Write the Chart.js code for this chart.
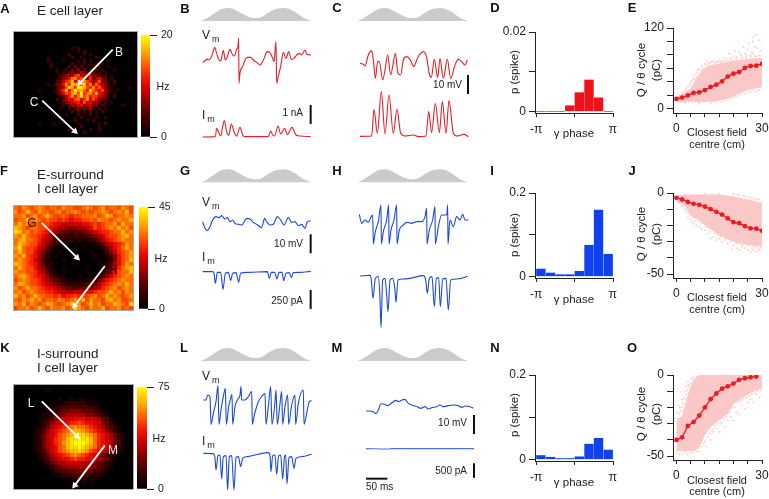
<!DOCTYPE html>
<html>
<head>
<meta charset="utf-8">
<title>Grid cell panels</title>
<script src="https://cdn.jsdelivr.net/npm/chart.js@4/dist/chart.umd.min.js"></script>
<style>
  html, body { margin: 0; padding: 0; background: #fff; }
  #fig { position: relative; width: 769px; height: 499px; overflow: hidden; font-family: "Liberation Sans", Arial, sans-serif; color: #222; }
  canvas { position: absolute; }
  .t { position: absolute; white-space: nowrap; z-index: 5; line-height: 1; }
  .t sub { font-size: 0.75em; vertical-align: -0.35em; line-height: 0; margin-left: 2px; }
</style>
</head>
<body>
<div id="fig"></div>
<script>
// firing rate maps, one char per cell, 0-f = share of the colour bar, . = silent
const heatA = [
  ".........................................",
  ".........................................",
  ".........................................",
  ".........................................",
  ".........................................",
  "...................2.3...................",
  ".....................2.3.................",
  "..................3....2.2...............",
  "...........2.......3..2....3.............",
  "...........3....2....2.3.2.....2.........",
  "............2......3.2.3.2.3.2...........",
  "............3.....3.4.3.2.3.3..2.........",
  "..............2..3.4.5.4.3.4.2...2.......",
  "..............2.3.4534653.4.3.2..........",
  "...............345659a6758453.3.2........",
  "..............23568bc8a75936854.2........",
  "..............3469ad7b9ca857a452.3.......",
  "...........2.2458c9edbae9c7b8653.2.......",
  "..............356aec9feda9c8b7532.....2..",
  "........2....2369d8bfcdb8eb97a642.2......",
  "..............357a9cdaf9bc9d8753.2.......",
  "...............2469c8beac8a97652.3.......",
  "..............3.4687ab79c7a85432.........",
  "...............23567896a78564.3.2........",
  "................3.4657856745.32.....2....",
  "...............2..3.4535463.3.2..........",
  "...................3.4.3.4.2.3...........",
  ".................2...3.2.3.2.............",
  "..............2.....2.3....2..2..........",
  "....................3...2.3..............",
  "........2....2.......2......2.3..........",
  "......................3.....2............",
  "..................3......2..3............",
  ".......................3.................",
  "........................................."
];
const heatF = [
  "bacbabcbabbacbbaabcbabcabbacba",
  "cabdbacbbabcabbcbababbcbabcbda",
  "bbcabcabdbaaba9aabbbcabdcabbcb",
  "abbdbcbabaa9a9899aabacbbabcbbd",
  "bdbcabaaa98877777889a9abbcadbb",
  "dcbabbaa987665556678a9abcbdbca",
  "edbcaba98765443434567899abbdbc",
  "cbdbaa987542332323345679aabcdb",
  "bcdbba9765322121212235689abcbb",
  "bdcbaa875421010100011246789acb",
  "cebaa9764210100001000124689bdb",
  "bdbaa8653101000000010013579abc",
  "cbda98642010000100001001358abc",
  "bcba97531100100000000101258abd",
  "dcba98642100000100000112368acb",
  "bdbaa8653100100000100012469bcd",
  "cbbaa976421010000010012468abbd",
  "bcdba987532110001001123579abcb",
  "abcbaa9765432110111224689abcbb",
  "bdcbaa987654322222334689abcbdb",
  "cabdbba9887654433445679abcabcb",
  "bcabcbaa9987766777889aabdbcacb",
  "dbcabdbbaa9a899a9aabcabdbcbabc",
  "bacbdbcabbacbabcbdacbbacdbcaab",
  "cbdacbabdcbabcdbcabdbcabbdcbae",
  "abbcabdbacbbcabecbacbbdabbcaba"
];
const heatK = [
  "..............................",
  "........1.....................",
  "..............................",
  "...........1..1.11.1..........",
  "..........11122222111.........",
  ".........1123333333221........",
  "........112344555444321.......",
  ".......11234566666554321......",
  "......1123567778887776431.....",
  "......1235677899a98877542.....",
  ".....11246789abcbba98764321...",
  ".....1235789abcddcba9875421...",
  ".....124678abcdeeedcb9876421..",
  ".....124679abdeefeedb9876431..",
  ".....124679acdefffedb9876431..",
  ".....124678abdeefedcb9876421..",
  ".....123578abcddedca98765321..",
  "......1246789abcba98764321....",
  "......123567889a9988765421....",
  ".......124566777766654321.....",
  "........12345566666554321.....",
  ".........123344455443321......",
  "..........1122333332221.......",
  "............111222111.........",
  "..............1..1.1..........",
  ".............................."
];

// theta envelope, shared by all traces
const thetaT = [0, 18, 33, 48, 63, 83, 98, 113, 128, 143, 158, 168, 183, 198, 213, 228, 248, 263, 278, 293, 308, 323, 333];
const thetaV = [0, 8, 18, 28, 36, 39, 36, 28, 20, 13, 9, 9, 12, 22, 31, 37, 39, 37, 30, 20, 10, 3, 0];

// traces, [time, value]; 1 time unit is about 0.78 ms, 57 value units are one scale bar
const vmB = [[0,2],[7,7],[12,13],[17,10],[24,15],[30,30],[36,48],[42,30],[48,12],[54,7],[62,38],[68,10],[74,20],[82,42],[90,25],[95,22],[102,42],[106,50],[108,75],[109,-60],[112,-28],[120,-10],[127,10],[134,18],[144,18],[152,10],[162,3],[172,-5],[182,10],[194,35],[202,32],[208,20],[214,5],[220,65],[222,-60],[226,-42],[234,-10],[242,33],[250,15],[258,35],[266,12],[274,15],[282,25],[290,30],[297,25],[307,40],[312,28],[324,25]];
const imB = [[0,-1],[38,0],[42,25],[47,15],[54,2],[59,25],[65,48],[72,15],[78,4],[86,38],[94,15],[102,2],[112,28],[120,5],[127,0],[197,0],[204,17],[210,5],[216,2],[226,32],[234,8],[246,25],[254,6],[268,28],[280,5],[292,2],[324,0]];
const vmC = [[0,0],[8,-2],[15,-8],[25,25],[35,38],[40,10],[46,-45],[53,5],[58,5],[68,-50],[75,-20],[83,25],[92,-35],[98,-10],[106,30],[114,-30],[122,-35],[130,10],[140,20],[150,12],[162,-10],[172,15],[190,35],[200,18],[208,-32],[214,-42],[223,12],[233,-42],[240,15],[250,-45],[262,12],[272,-45],[285,-5],[295,12],[305,5],[315,-5],[322,10]];
const imC = [[0,-1],[35,0],[42,80],[52,8],[64,133],[75,6],[87,123],[100,8],[111,80],[122,8],[135,0],[160,3],[175,-2],[198,0],[206,73],[215,10],[226,98],[238,10],[247,103],[258,8],[267,106],[280,8],[290,0],[312,5],[325,-2]];
const vmG = [[0,0],[7,-20],[14,-27],[22,-15],[30,5],[40,15],[50,12],[57,18],[67,8],[74,12],[82,0],[90,5],[97,-5],[107,-8],[117,-10],[132,10],[142,8],[152,-2],[162,-8],[177,-18],[186,10],[192,0],[202,-10],[212,-8],[224,15],[234,5],[244,-10],[257,12],[267,-2],[277,0],[287,-12],[297,-8],[307,-20],[314,0],[324,2]];
const imG = [[0,0],[30,0],[34,-5],[38,-35],[44,-2],[54,-2],[61,-53],[68,-5],[77,-2],[84,-26],[90,-5],[100,-3],[108,-32],[114,-4],[137,-2],[194,0],[200,-20],[206,-2],[216,-2],[223,-22],[229,-2],[238,-2],[243,-27],[250,-4],[260,-3],[266,-18],[272,-3],[292,-2],[324,1]];
const vmH = [[0,17],[7,-10],[17,0],[27,-7],[34,7],[40,15],[42,-72],[48,-35],[57,-5],[65,45],[66,-72],[72,-35],[82,0],[88,45],[89,-72],[95,-30],[104,0],[112,45],[113,-72],[120,-30],[132,-15],[142,-7],[157,-10],[172,-5],[187,-5],[197,10],[202,35],[203,-72],[210,-30],[220,0],[227,40],[228,-72],[237,-20],[247,15],[262,15],[265,45],[266,-72],[272,0],[282,-20],[292,10],[302,0],[310,17],[317,0],[327,0]];
const imH = [[0,0],[30,2],[34,-12],[39,-67],[46,-7],[55,-2],[60,-67],[63,-154],[68,-12],[75,-7],[80,-57],[84,-107],[90,-12],[98,-7],[105,-42],[108,-79],[114,-12],[130,-9],[150,-7],[190,1],[197,-12],[202,-52],[208,-7],[216,-2],[223,-92],[229,-7],[236,-5],[241,-92],[248,-9],[258,-7],[265,-102],[272,-12],[290,-9],[305,-7],[323,-1]];
const vmL = [[0,0],[8,0],[13,15],[20,10],[23,-73],[30,-40],[38,-5],[44,43],[47,-73],[53,-30],[60,10],[66,35],[69,-73],[76,-20],[82,5],[86,17],[88,-73],[95,-20],[102,0],[110,15],[113,40],[115,0],[125,0],[135,10],[145,25],[147,-73],[153,-45],[165,-5],[175,10],[185,20],[188,-73],[195,-20],[202,40],[206,-73],[215,-5],[218,30],[222,-73],[230,-10],[235,25],[238,-73],[245,-20],[253,15],[256,-73],[265,-15],[275,15],[277,-73],[285,-10],[300,30],[302,-73],[310,-40],[318,-5],[325,-2]];
const imL = [[0,0],[30,-1],[35,-15],[38,-50],[44,-7],[50,-5],[55,-77],[60,-10],[68,-7],[73,-110],[78,-10],[85,-7],[92,-110],[98,-13],[105,-10],[112,-40],[118,-15],[132,-10],[195,2],[200,-7],[203,-55],[208,-7],[215,-5],[220,-63],[226,-7],[232,-5],[238,-77],[244,-7],[247,-5],[251,-92],[257,-13],[265,-10],[272,-45],[278,-15],[295,-10],[325,-3]];
const vmM = [[0,-3],[12,-3],[22,-5],[30,-11],[37,0],[44,18],[54,18],[64,13],[72,17],[82,25],[90,29],[98,25],[106,29],[116,32],[127,20],[137,15],[144,13],[154,10],[164,5],[177,10],[187,3],[197,7],[212,10],[222,15],[232,10],[247,13],[262,15],[277,13],[287,8],[297,12],[312,10],[322,5]];
const imM = [[0,0],[70,-1],[75,0],[150,0],[324,0]];

// spike phase histograms
const binCentres = [-2.75, -1.96, -1.18, -0.39, 0.39, 1.18, 1.96, 2.75];
const spikeD = [0, 0, 0, 0.0014, 0.0047, 0.0079, 0.0034, 0];
const spikeI = [0.0175, 0.008, 0.004, 0.004, 0.012, 0.0746, 0.159, 0.053];
const spikeN = [0.009, 0.005, 0.002, 0.002, 0.006, 0.036, 0.05, 0.022];

// charge per theta cycle against distance
const meanX = [0, 2, 4, 6, 8, 10, 12, 14, 16, 18, 20, 22, 24, 26, 28, 30];
const meanE = [14.8, 16.8, 20, 23.7, 24.7, 28, 32.6, 36, 41, 48, 52.3, 54.8, 60.7, 63.7, 64.2, 66.7];
const meanJ = [-3, -4, -5.5, -6.7, -7.3, -8.4, -10, -11.6, -13.3, -15.7, -18, -18.6, -20.4, -21.8, -22, -23.3];
const meanO = [-40, -38.4, -31.4, -29, -25, -20, -14.9, -11.4, -8.4, -7, -5.3, -3, -2, -1.4, -1];

// edges of the dense part of each cloud
const bandEX = [0, 2, 5, 7, 10, 13, 16, 20, 25, 30];
const bandEHi = [18, 22, 30, 46, 62, 66, 68, 72, 74, 76];
const bandELo = [11, 10, 10, 10, 10, 11, 13, 19, 28, 32];
const bandJX = [0, 3, 5, 8, 10, 15, 20, 25, 30];
const bandJHi = [-2, -1, -1, -1, -1, -1, -2, -4, -6];
const bandJLo = [-5, -8, -14, -17, -20, -26, -30, -32, -33];
const bandOX = [0, 2, 4, 6, 8, 10, 12, 15, 18, 20, 25, 30];
const bandOHi = [-28, -25, -12, -3, 0, 0, 0, 0, 0, 0, 0, 0];
const bandOLo = [-47, -47, -47, -47, -45, -37, -32, -28, -24, -18, -12, -8];

// stray points around the clouds
const speckE = [[1,21],[2,24],[3,27],[3.5,30],[4,33],[4.5,37],[5,34],[5.5,42],[6,45],[6,50],[6.5,38],[7,54],[7,48],[7.5,58],[8,60],[8,43],[8.5,52],[9,64],[9.5,57],[10,67],[11,70],[12,69],[13,71],[14,70],[15,72],[16,72],[17,75],[18,73],[18.5,82],[19,76],[20,78],[20.5,86],[21,75],[22,84],[22.5,80],[23,78],[23.5,92],[24,82],[24.5,76],[25,88],[25.5,97],[26,80],[26.5,84],[26.8,100],[27,106],[27.5,92],[28,110],[28.5,90],[29,102],[29.5,86],[30,94],[30,80],[28,78],[27,82],[16,10],[18,14],[20,17],[22,20],[24,23],[26,26],[28,26],[29,28],[30,28],[12,9],[8,9],[3,9],
  [4.5,27],[5,40],[5.8,30],[6.3,44],[7.2,40],[7.8,52],[8.6,57],[9.2,60],[10.5,65],[11.5,67],[12.5,70],[13.5,68],[14.5,70],[15.5,70],[16.5,70],[17.5,71],[19,73],[21,77],[23,75],[24.5,79],[26,77],[27.5,78],[29,79],[17,12],[19,16],[21,19],[23,22],[25,25],[27,28],[14,10.5]];
const speckJ = [[1,-6],[2,-8],[3,-10],[4,-11],[4,-15],[5,-16],[5.5,-18],[6,-15],[6,-19],[7,-20],[7.5,-17],[8,-21],[9,-22],[9,-18],[10,-23],[11,-25],[12,-24],[12,-28],[13,-27],[14,-29],[15,-28],[16,-30],[17,-29],[18,-31],[19,-30],[20,-32],[21,-34],[22,-31],[23,-33],[24,-34],[25,-35],[25.5,-32],[26,-36],[26.5,-34],[27,-35],[27.5,-33],[28,-36],[28.5,-34],[29,-35],[30,-36],[30,-34],[29.5,-33],[22,-35],[19.5,-35],[20,-0.6],[22,-1],[24,-2],[25,-2.5],[26,-3],[27,-3.5],[28,-4],[29,-4],[30,-5],[1,-1.5],[3,-0.6],[10,-0.4],[15,-0.4],
  [2.5,-7],[3.5,-12],[4.5,-13],[6.5,-17],[8.5,-19],[10.5,-21],[11.5,-23],[13.5,-25],[14.5,-26],[15.5,-27],[17.5,-28],[19,-29],[21,-31],[23,-32],[24.5,-32],[21.5,-1.5],[23.5,-1.8],[26,-4.5],[28,-3.5]];
const speckO = [[0.5,-27],[1,-24],[1.5,-22],[2,-20],[2.5,-18],[3,-15],[3.5,-12],[4,-9],[4.5,-7],[5,-5],[5.5,-3],[6,-1.5],[6.5,-4],[7,-1],[1,-19],[2,-15],[3.5,-7],[4,-4],[5,-2],[0,-48],[1,-49],[2,-49],[3,-48],[4,-49],[5,-48],[6,-48],[7,-47],[8,-47],[9,-44],[10,-41],[10.5,-44],[11,-38],[12,-40],[13,-35],[14,-33],[15,-35],[16,-30],[17,-32],[18,-28],[19,-26],[20,-28],[21,-23],[22,-24],[23,-19],[24,-21],[25,-17],[26,-15],[27,-17],[28,-12],[29,-14],[30,-10],[30,-13],
  [0.3,-23],[1.2,-20],[2.2,-17],[3.2,-10],[2.8,-14],[4.2,-6],[9.5,-42],[11.5,-36],[12.5,-34],[13.5,-31],[14.5,-30],[15.5,-29],[16.5,-27],[17.5,-26],[18.5,-23],[19.5,-20],[20.5,-20],[21.5,-17],[22.5,-16],[23.5,-15],[24.5,-14],[25.5,-13],[26.5,-12],[27.5,-11],[28.5,-10],[29.5,-9]];

const RED = '#e5202a';
const BLUE = '#1c48dc';
const INK = '#222';
const fig = document.getElementById('fig');

Chart.defaults.font.family = '"Liberation Sans", Arial, sans-serif';
Chart.defaults.color = INK;
Chart.defaults.animation = false;
Chart.defaults.responsive = false;
Chart.defaults.layout.autoPadding = false;
Chart.defaults.plugins.legend.display = false;
Chart.defaults.plugins.tooltip.enabled = false;

function addCanvas(left, top, w, h) {
  const c = document.createElement('canvas');
  c.width = w;
  c.height = h;
  c.style.left = left + 'px';
  c.style.top = top + 'px';
  fig.appendChild(c);
  return c;
}

function txt(x, y, html, size, opts) {
  opts = opts || {};
  const d = document.createElement('div');
  d.className = 't';
  d.innerHTML = html;
  d.style.left = x + 'px';
  d.style.top = y + 'px';
  d.style.fontSize = size + 'px';
  if (opts.bold) d.style.fontWeight = 'bold';
  if (opts.color) d.style.color = opts.color;
  let tx = opts.align === 'left' ? '0' : opts.align === 'right' ? '-100%' : '-50%';
  d.style.transform = `translate(${tx},-50%)` + (opts.rot ? ' rotate(-90deg)' : '');
  fig.appendChild(d);
}

// colour bar stops, black through red to yellow
function hotColor(t) {
  const stops = [[0, 0, 0, 0], [0.25, 90, 0, 0], [0.5, 225, 0, 0], [0.62, 255, 40, 0], [0.8, 255, 150, 0], [1, 255, 255, 0]];
  for (let i = 1; i < stops.length; i++) {
    if (t <= stops[i][0]) {
      const a = stops[i - 1], b = stops[i];
      const f = (t - a[0]) / (b[0] - a[0]);
      return `rgb(${Math.round(a[1] + f * (b[1] - a[1]))},${Math.round(a[2] + f * (b[2] - a[2]))},${Math.round(a[3] + f * (b[3] - a[3]))})`;
    }
  }
  return 'rgb(255,255,0)';
}

function heatMap(rows, box, arrows) {
  const canvas = addCanvas(box.l, box.t, box.r - box.l, box.b - box.t);
  canvas.style.background = '#000';
  canvas.style.outline = '1px solid #aaa';
  const nRows = rows.length, nCols = rows[0].length;
  const cells = [], colors = [];
  rows.forEach((row, r) => {
    for (let c = 0; c < row.length; c++) {
      const level = parseInt(row[c], 16);
      if (level > 0) {
        cells.push({ x: c + 0.5, y: r + 0.5 });
        colors.push(hotColor(level / 15));
      }
    }
  });
  const side = (box.r - box.l) / nCols;
  const datasets = arrows.map(a => ({
    data: [{ x: a[0], y: a[1] }, { x: a[2], y: a[3] }],
    showLine: true,
    borderColor: '#fff',
    borderWidth: 1.8,
    pointStyle: 'triangle',
    pointBackgroundColor: '#fff',
    pointBorderWidth: 0,
    pointRadius: [0, 4],
    pointRotation: Math.atan2(a[2] - a[0], a[1] - a[3]) * 180 / Math.PI
  }));
  datasets.push({
    data: cells,
    pointStyle: 'rect',
    pointRadius: (side + 0.3) * Math.SQRT1_2,
    pointBorderWidth: 0,
    pointBackgroundColor: colors
  });
  new Chart(canvas, {
    type: 'scatter',
    data: { datasets },
    options: {
      layout: { padding: 0 },
      clip: false,
      scales: {
        x: { display: false, min: 0, max: nCols },
        y: { display: false, min: 0, max: nRows, reverse: true }
      }
    }
  });
}

function colorBar(box, max) {
  const mr = 24;
  const canvas = addCanvas(box.l, box.t - 8, box.r - box.l + mr, box.b - box.t + 16);
  new Chart(canvas, {
    type: 'bar',
    data: {
      labels: [''],
      datasets: [{
        data: [[0, max]],
        barPercentage: 1,
        categoryPercentage: 1,
        backgroundColor: ({ chart }) => {
          const a = chart.chartArea;
          if (!a) return '#000';
          const g = chart.ctx.createLinearGradient(0, a.bottom, 0, a.top);
          for (let i = 0; i <= 10; i++) g.addColorStop(i / 10, hotColor(i / 10));
          return g;
        }
      }]
    },
    options: {
      layout: { padding: { top: 8, bottom: 8 } },
      scales: {
        x: { display: false },
        y: {
          position: 'right',
          min: 0,
          max,
          afterBuildTicks: s => { s.ticks = [{ value: 0 }, { value: max }]; },
          afterFit: s => { s.width = mr; s.paddingTop = 0; s.paddingBottom = 0; },
          border: { display: false },
          grid: { drawOnChartArea: false, color: INK, tickLength: 7 },
          ticks: { padding: 4, font: { size: 10.5 }, autoSkip: false }
        }
      }
    }
  });
}

// axes shared by the histograms and the scatter panels: the plot area lands exactly on area
function axisChart(area, datasets, type, xa, ya) {
  const ml = 40, mr = 12, mt = 8, mb = 34;
  const canvas = addCanvas(area.l - ml, area.t - mt, area.r - area.l + ml + mr, area.b - area.t + mt + mb);
  const tickFmt = labels => (v => (labels[v] !== undefined ? labels[v] : ''));
  new Chart(canvas, {
    type,
    data: { datasets },
    options: {
      layout: { padding: { top: mt, right: mr, left: 0, bottom: 0 } },
      scales: {
        x: {
          type: 'linear',
          offset: false,
          min: xa.min,
          max: xa.max,
          afterBuildTicks: s => { s.ticks = xa.ticks.map(value => ({ value })); },
          afterFit: s => { s.height = mb; s.paddingLeft = 0; s.paddingRight = 0; },
          border: { color: INK },
          grid: { offset: false, drawOnChartArea: false, color: INK, tickLength: 4 },
          ticks: { padding: xa.pad, maxRotation: 0, autoSkip: false, font: { size: 12 }, callback: tickFmt(xa.labels) }
        },
        y: {
          min: ya.min,
          max: ya.max,
          afterBuildTicks: s => { s.ticks = ya.ticks.map(value => ({ value })); },
          afterFit: s => { s.width = ml; s.paddingTop = 0; s.paddingBottom = 0; },
          border: { color: INK },
          grid: { drawOnChartArea: false, color: INK, tickLength: 6 },
          ticks: { padding: 3, autoSkip: false, font: { size: 12 }, callback: tickFmt(ya.labels) }
        }
      }
    }
  });
}

function histogram(values, area, top, color) {
  const data = binCentres.map((x, i) => ({ x, y: values[i] }));
  const extra = top * 5 / ((area.b - area.t) * 3 - 5);
  axisChart(area, [{
    data,
    backgroundColor: color,
    barThickness: 8.7
  }], 'bar',
    { min: -3.23, max: 3.1416, ticks: [-3.1416, 0, 3.1416], labels: { '-3.1416': '-π', '3.1416': 'π' }, pad: 5 },
    { min: -extra, max: top, ticks: [0, top / 2, top], labels: { 0: '0', [top]: String(top) } });
}

function cloudPanel(area, bandX, hi, lo, speck, mean, ya) {
  const pts = (xs, ys) => ys.map((y, i) => ({ x: xs[i], y }));
  const PINK = '#fbc8c8';
  axisChart(area, [
    {
      data: pts(meanX, mean),
      showLine: true,
      borderColor: '#ea1c24',
      borderWidth: 1.3,
      pointBackgroundColor: '#ea1c24',
      pointBorderWidth: 0,
      pointRadius: 2.4
    },
    {
      data: speck.map(p => ({ x: p[0], y: p[1] })),
      pointBackgroundColor: PINK,
      pointBorderWidth: 0,
      pointRadius: 0.9
    },
    {
      data: pts(bandX, hi),
      showLine: true,
      borderWidth: 0,
      pointRadius: 0,
      backgroundColor: PINK,
      fill: '+1'
    },
    {
      data: pts(bandX, lo),
      showLine: true,
      borderWidth: 0,
      pointRadius: 0
    }
  ], 'scatter',
    { min: -1.2, max: 30, ticks: [0, 5, 10, 15, 20, 25, 30], labels: { 0: '0', 30: '30' }, pad: 4 },
    ya);
}

// one chart per row holds theta, Vm, Im and the scale bars of both trace columns
function traceRow(row) {
  const H = row.h * 3;
  const canvas = addCanvas(190, row.top, 290, row.h);
  const datasets = [];
  row.thetaBase.forEach(b => {
    const base = H - row.thetaY;
    datasets.push({
      data: thetaT.map((t, i) => ({ x: b + t, y: base + thetaV[i] })),
      showLine: true,
      tension: 0.35,
      borderWidth: 0,
      pointRadius: 0,
      backgroundColor: '#cbcbcb',
      fill: { value: base }
    });
  });
  row.traces.forEach(tr => {
    datasets.push({
      data: tr.data.map(p => ({ x: tr.x0 + p[0], y: H - tr.y0 + p[1] })),
      showLine: true,
      cubicInterpolationMode: 'monotone',
      borderColor: tr.color,
      borderWidth: 1.1,
      pointRadius: 0
    });
  });
  row.bars.forEach(b => {
    datasets.push({
      data: [{ x: b[0], y: H - b[1] }, { x: b[2], y: H - b[3] }],
      showLine: true,
      borderColor: '#111',
      borderWidth: 2,
      pointRadius: 0
    });
  });
  new Chart(canvas, {
    type: 'scatter',
    data: { datasets },
    options: {
      layout: { padding: 0 },
      scales: {
        x: { display: false, min: 0, max: 870 },
        y: { display: false, min: 0, max: H }
      }
    }
  });
}

heatMap(heatA, { l: 14, r: 137, t: 32, b: 137 }, [[32.9, 5.9, 22, 17], [9.4, 22.9, 20.3, 33.1]]);
heatMap(heatF, { l: 14, r: 133, t: 206, b: 310 }, [[7, 4.2, 15.9, 12.9], [22.9, 15, 15.3, 24.9]]);
heatMap(heatK, { l: 14, r: 133, t: 385, b: 489 }, [[7, 4.1, 15.9, 12.8], [22.9, 15.1, 15.3, 25.1]]);
colorBar({ l: 141, r: 150, t: 35, b: 137 }, 20);
colorBar({ l: 139, r: 148, t: 207, b: 309 }, 45);
colorBar({ l: 137, r: 147, t: 387, b: 489 }, 75);

traceRow({
  top: 0, h: 165, thetaY: 63, thetaBase: [32, 502],
  traces: [
    { data: vmB, x0: 38, y0: 190, color: RED },
    { data: imB, x0: 38, y0: 410, color: RED },
    { data: vmC, x0: 510, y0: 190, color: RED },
    { data: imC, x0: 510, y0: 408, color: RED }
  ],
  bars: [[362, 315, 362, 372], [834, 225, 834, 282]]
});
traceRow({
  top: 165, h: 170, thetaY: 52, thetaBase: [32, 502],
  traces: [
    { data: vmG, x0: 38, y0: 170, color: BLUE },
    { data: imG, x0: 38, y0: 320, color: BLUE },
    { data: vmH, x0: 508, y0: 165, color: BLUE },
    { data: imH, x0: 510, y0: 333, color: BLUE }
  ],
  bars: [[362, 208, 362, 265], [362, 375, 362, 432]]
});
traceRow({
  top: 335, h: 164, thetaY: 78, thetaBase: [32, 502],
  traces: [
    { data: vmL, x0: 40, y0: 195, color: BLUE },
    { data: imL, x0: 40, y0: 355, color: BLUE },
    { data: vmM, x0: 528, y0: 225, color: BLUE },
    { data: imM, x0: 528, y0: 341, color: '#4a72ee' }
  ],
  bars: [[852, 240, 852, 297], [852, 385, 852, 428], [528, 431, 592, 431]]
});

histogram(spikeD, { l: 535, r: 613, t: 32, b: 113 }, 0.02, '#f01018');
histogram(spikeI, { l: 535, r: 613, t: 193, b: 278 }, 0.2, '#0f42ee');
histogram(spikeN, { l: 535, r: 613, t: 375, b: 461 }, 0.2, '#0f42ee');

cloudPanel({ l: 673, r: 762, t: 28, b: 113 }, bandEX, bandEHi, bandELo, speckE, meanE,
  { min: -6, max: 120, ticks: [0, 20, 40, 60, 80, 100, 120], labels: { 0: '0', 120: '120' } });
cloudPanel({ l: 673, r: 762, t: 193, b: 278 }, bandJX, bandJHi, bandJLo, speckJ, meanJ,
  { min: -52.4, max: 0, ticks: [-50, -40, -30, -20, -10, 0], labels: { 0: '0', '-50': '-50' } });
cloudPanel({ l: 673, r: 762, t: 375, b: 460 }, bandOX, bandOHi, bandOLo, speckO, meanO,
  { min: -52.4, max: 0, ticks: [-50, -40, -30, -20, -10, 0], labels: { 0: '0', '-50': '-50' } });

// panel letters
[['A', 5, 8], ['B', 185, 8], ['C', 337, 7], ['D', 495, 7], ['E', 632, 7],
 ['F', 4, 170], ['G', 185, 170], ['H', 337, 170], ['I', 492, 170], ['J', 632, 170],
 ['K', 5, 347], ['L', 184, 347], ['M', 337, 347], ['N', 495, 347], ['O', 632, 347]
].forEach(p => txt(p[1], p[2], p[0], 13, { bold: true, color: '#111' }));

// titles
txt(37, 11, 'E cell layer', 13.5, { align: 'left' });
txt(37, 175, 'E-surround', 13.5, { align: 'left' });
txt(37, 189, 'I cell layer', 13.5, { align: 'left' });
txt(37, 354, 'I-surround', 13.5, { align: 'left' });
txt(37, 368, 'I cell layer', 13.5, { align: 'left' });

// heat map labels
txt(119, 52, 'B', 12, { color: '#eee' });
txt(34, 102, 'C', 12, { color: '#eee' });
txt(32, 223, 'G', 12, { color: '#221100' });
txt(113, 270, 'H', 12, { color: '#220000' });
txt(31, 403, 'L', 12, { color: '#eee' });
txt(113, 450, 'M', 12, { color: '#eee' });
txt(163, 86, 'Hz', 10.5);
txt(161, 258, 'Hz', 10.5);
txt(159, 438, 'Hz', 10.5);

// trace labels
[[35, 115], [202, 257], [376, 441]].forEach(r => {
  txt(202, r[0], 'V<sub>m</sub>', 12, { align: 'left' });
  txt(202, r[1], 'I<sub>m</sub>', 12, { align: 'left' });
});
txt(303, 113, '1 nA', 10, { align: 'right' });
txt(462, 85, '10 mV', 10, { align: 'right' });
txt(303, 244, '10 mV', 10, { align: 'right' });
txt(303, 301, '250 pA', 10, { align: 'right' });
txt(467, 423, '10 mV', 10, { align: 'right' });
txt(467, 471, '500 pA', 10, { align: 'right' });
txt(366, 487, '50 ms', 10, { align: 'left' });

// axis titles
[[72, 134], [235, 300], [415, 483]].forEach(r => {
  txt(515, r[0], 'p (spike)', 11.5, { rot: true });
  txt(574, r[1], 'γ phase', 11.5);
});
[[70, 132, 144], [234, 297, 309], [414, 480, 491]].forEach(r => {
  txt(642, r[0], 'Q / θ cycle', 11.5, { rot: true });
  txt(657, r[0], '(pC)', 11.5, { rot: true });
  txt(717, r[1], 'Closest field', 11);
  txt(717, r[2], 'centre (cm)', 11);
});
</script>
</body>
</html>
